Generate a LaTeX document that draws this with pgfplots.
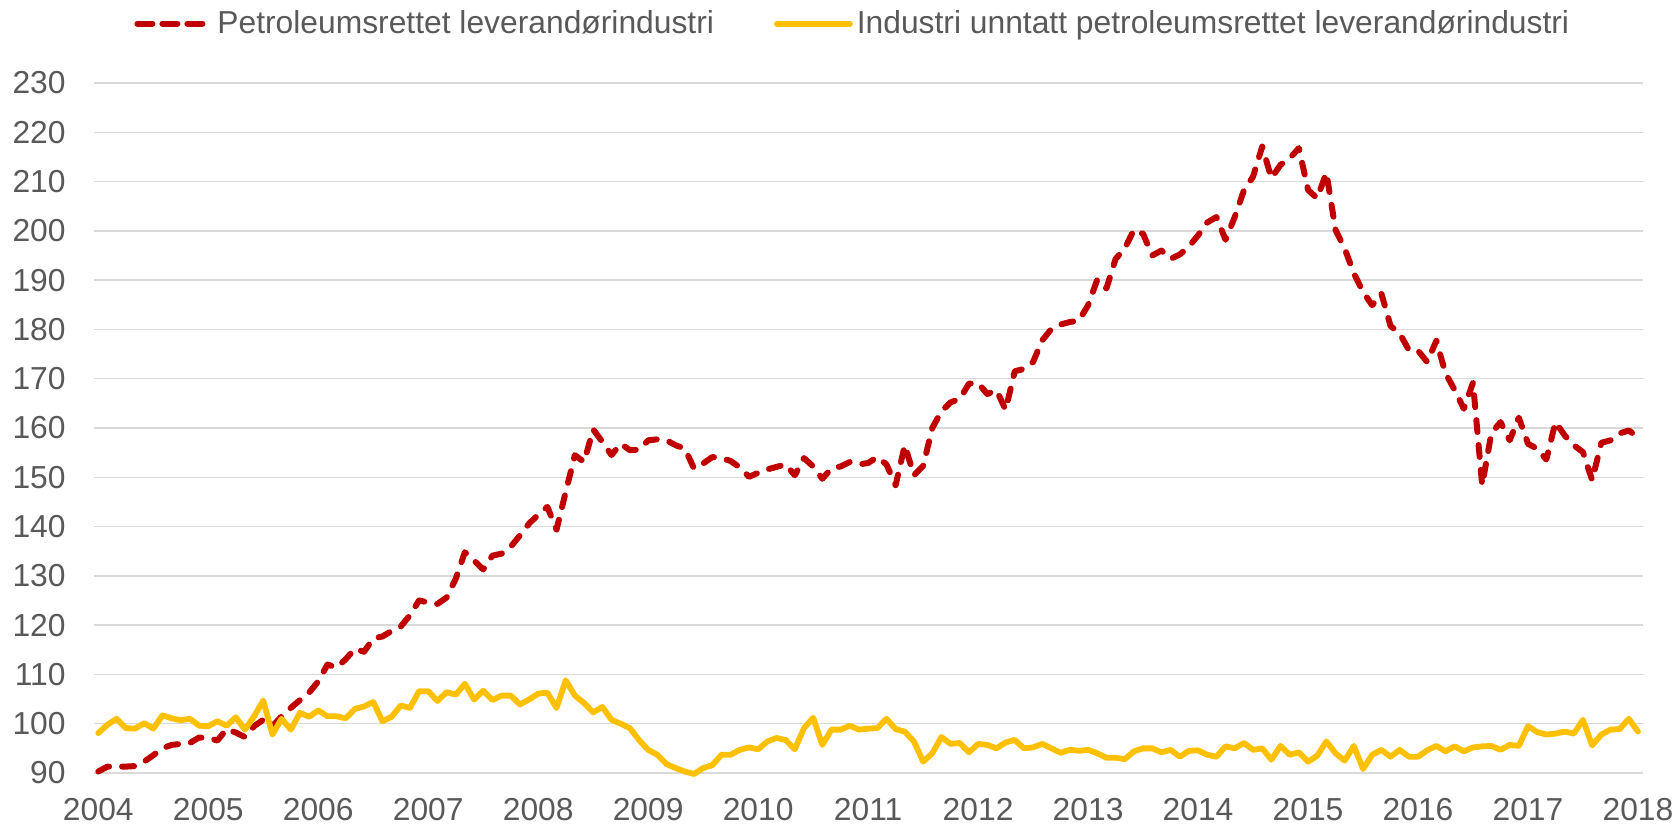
\documentclass[border=0pt]{standalone}
\usepackage{pgfplots}
\pgfplotsset{compat=1.18}
\usepackage{fontspec}
\setmainfont{Liberation Sans}
\definecolor{redline}{HTML}{C00000}
\definecolor{yelline}{HTML}{FFC000}
\definecolor{txtgrey}{HTML}{595959}
\definecolor{gridgrey}{HTML}{D9D9D9}
\begin{document}
\begin{tikzpicture}
\useasboundingbox (-47pt,-26pt) rectangle (791.5pt,386.5pt);
\begin{axis}[
  at={(0pt,0pt)}, anchor=south west,
  scale only axis, width=774.5pt, height=345pt,
  xmin=-0.47, xmax=168.55, ymin=90, ymax=230,
  clip=false,
  axis line style={draw=none},
  major tick length=0pt,
  xtick={0,12,...,168},
  xticklabels={2004,2005,2006,2007,2008,2009,2010,2011,2012,2013,2014,2015,2016,2017,2018},
  ytick={90,100,...,230},
  ymajorgrids, grid style={gridgrey, line width=0.7pt},
  /pgf/number format/assume math mode=true,
  tick label style={font=\fontsize{15.9}{19}\selectfont, text=txtgrey},
  yticklabel style={anchor=east, inner sep=0pt, xshift=-14pt},
  xticklabel style={anchor=north, inner sep=0pt, yshift=-12.5pt},
  legend columns=2,
  legend style={at={(0.4905,1.086)}, anchor=center, draw=none, fill=none,
    font=\fontsize{15.9}{19}\selectfont, text=txtgrey,
    /tikz/every even column/.append style={column sep=28pt}},
  legend image code/.code={\draw[#1] (0pt,0pt) -- (31pt,0pt); \path (-1.5pt,0pt) -- (35pt,0pt);},
  legend cell align=left,
]
\addplot[redline, line width=3pt, line cap=round, line join=round, dash pattern=on 6pt off 6.5pt] coordinates {
(0,90.3)(1,91.3)(2,91.3)(3,91.3)(4,91.4)(5,92.3)(6,93.6)(7,95.0)(8,95.7)(9,95.9)(10,96.1)(11,97.2)
(12,97.1)(13,96.6)(14,98.9)(15,98.2)(16,97.3)(17,99.5)(18,100.8)(19,99.5)(20,101.5)(21,103.2)(22,104.8)(23,106.3)
(24,108.6)(25,112.0)(26,111.4)(27,113.1)(28,115.2)(29,114.6)(30,117.3)(31,117.7)(32,118.8)(33,119.7)(34,122.0)(35,125.0)
(36,124.6)(37,124.3)(38,125.6)(39,129.4)(40,134.8)(41,133.1)(42,131.3)(43,134.1)(44,134.5)(45,135.9)(46,138.2)(47,140.6)
(48,142.4)(49,144.0)(50,139.4)(51,147.0)(52,154.5)(53,153.1)(54,159.7)(55,157.2)(56,154.5)(57,156.8)(58,155.5)(59,155.6)
(60,157.5)(61,157.7)(62,157.5)(63,156.5)(64,155.8)(65,151.8)(66,152.8)(67,154.1)(68,153.9)(69,153.3)(70,152.0)(71,150.1)
(72,150.9)(73,151.6)(74,152.1)(75,152.6)(76,150.4)(77,153.9)(78,152.2)(79,149.7)(80,151.8)(81,152.2)(82,153.1)(83,152.6)
(84,152.9)(85,154.1)(86,152.6)(87,148.4)(88,156.5)(89,150.4)(90,152.3)(91,160.0)(92,163.4)(93,165.2)(94,165.9)(95,169.0)
(96,169.1)(97,166.9)(98,167.7)(99,163.7)(100,171.5)(101,172.0)(102,173.4)(103,177.8)(104,180.1)(105,181.0)(106,181.5)(107,181.8)
(108,184.9)(109,190.1)(110,188.3)(111,194.3)(112,196.4)(113,200.2)(114,199.4)(115,195.0)(116,196.0)(117,194.3)(118,195.2)(119,196.8)
(120,199.1)(121,201.7)(122,202.8)(123,198.2)(124,202.8)(125,208.2)(126,211.0)(127,217.1)(128,210.7)(129,213.4)(130,214.7)(131,216.8)
(132,208.3)(133,206.6)(134,211.8)(135,200.2)(136,196.4)(137,191.4)(138,187.6)(139,184.9)(140,187.3)(141,180.7)(142,179.2)(143,175.8)
(144,175.7)(145,173.4)(146,177.7)(147,171.1)(148,167.7)(149,163.9)(150,169.2)(151,148.4)(152,158.9)(153,161.2)(154,157.5)(155,162.1)
(156,156.8)(157,155.8)(158,153.6)(159,161.2)(160,158.5)(161,156.5)(162,155.1)(163,149.4)(164,157.0)(165,157.5)(166,158.9)(167,159.5)
(168,158.1)
};
\addlegendentry{Petroleumsrettet leverandørindustri}
\addplot[yelline, line width=2.9pt, line cap=round, line join=round] coordinates {
(0,98.1)(1,99.8)(2,101.0)(3,99.1)(4,99.0)(5,100.1)(6,99.0)(7,101.7)(8,101.1)(9,100.7)(10,101.0)(11,99.6)
(12,99.5)(13,100.5)(14,99.6)(15,101.3)(16,98.8)(17,101.5)(18,104.7)(19,97.8)(20,101.0)(21,98.8)(22,102.2)(23,101.4)
(24,102.7)(25,101.5)(26,101.5)(27,101.1)(28,103.0)(29,103.5)(30,104.4)(31,100.5)(32,101.4)(33,103.7)(34,103.2)(35,106.6)
(36,106.6)(37,104.6)(38,106.4)(39,105.9)(40,108.1)(41,104.9)(42,106.7)(43,104.8)(44,105.7)(45,105.7)(46,103.9)(47,104.9)
(48,106.1)(49,106.3)(50,103.2)(51,108.8)(52,105.7)(53,104.2)(54,102.3)(55,103.4)(56,100.8)(57,100.0)(58,99.1)(59,96.7)
(60,94.7)(61,93.7)(62,91.8)(63,91.0)(64,90.3)(65,89.8)(66,91.0)(67,91.6)(68,93.7)(69,93.7)(70,94.7)(71,95.2)
(72,94.8)(73,96.4)(74,97.1)(75,96.7)(76,94.8)(77,99.1)(78,101.2)(79,95.7)(80,98.8)(81,98.8)(82,99.6)(83,98.8)
(84,99.0)(85,99.1)(86,101.0)(87,98.9)(88,98.4)(89,96.4)(90,92.3)(91,94.0)(92,97.3)(93,95.9)(94,96.1)(95,94.2)
(96,95.9)(97,95.7)(98,95.0)(99,96.2)(100,96.7)(101,95.0)(102,95.2)(103,95.9)(104,95.0)(105,94.1)(106,94.7)(107,94.5)
(108,94.7)(109,94.0)(110,93.1)(111,93.1)(112,92.8)(113,94.4)(114,95.0)(115,95.0)(116,94.2)(117,94.7)(118,93.3)(119,94.5)
(120,94.6)(121,93.7)(122,93.3)(123,95.4)(124,95.0)(125,96.1)(126,94.7)(127,95.0)(128,92.7)(129,95.5)(130,93.7)(131,94.2)
(132,92.3)(133,93.5)(134,96.4)(135,94.0)(136,92.5)(137,95.5)(138,90.8)(139,93.7)(140,94.7)(141,93.3)(142,94.7)(143,93.3)
(144,93.3)(145,94.6)(146,95.5)(147,94.4)(148,95.4)(149,94.4)(150,95.2)(151,95.4)(152,95.5)(153,94.7)(154,95.7)(155,95.5)
(156,99.5)(157,98.3)(158,97.8)(159,98.0)(160,98.4)(161,98.0)(162,100.8)(163,95.6)(164,97.8)(165,98.8)(166,98.9)(167,101.0)
(168,98.4)
};
\addlegendentry{Industri unntatt petroleumsrettet leverandørindustri}
\end{axis}
\end{tikzpicture}
\end{document}
